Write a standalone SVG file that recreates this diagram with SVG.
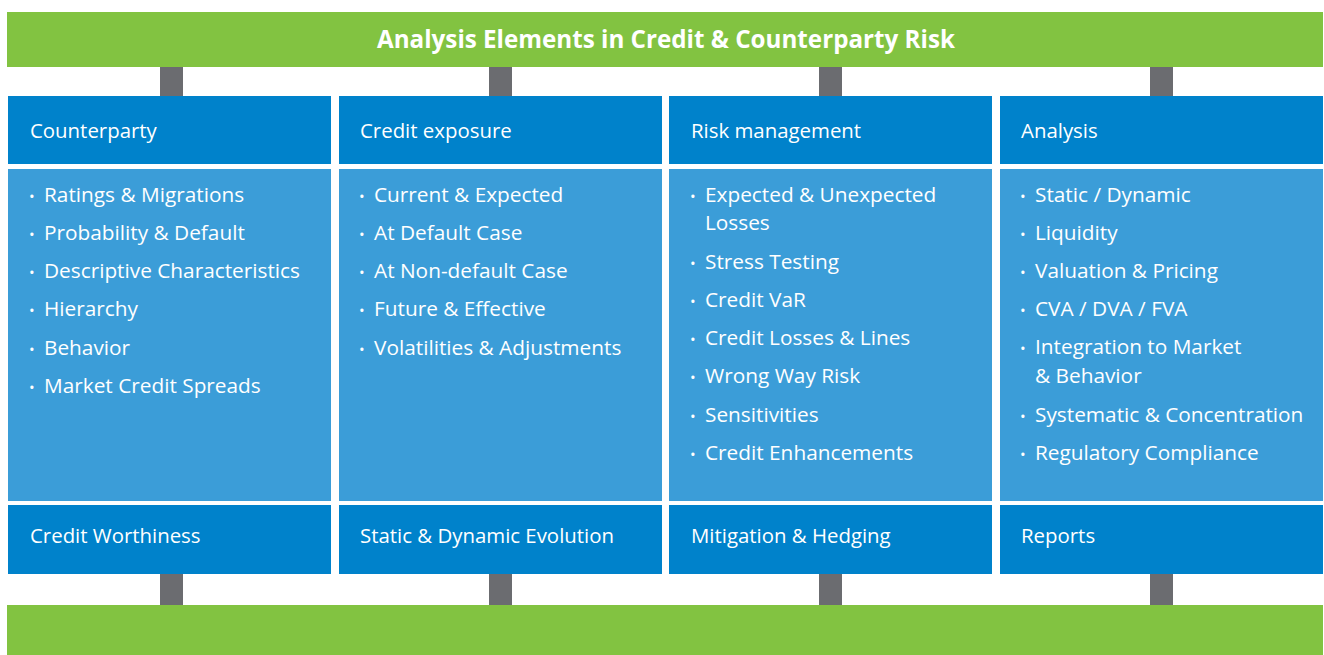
<svg xmlns="http://www.w3.org/2000/svg" width="1324" height="655" viewBox="0 0 1324 655">
<style>
.green{fill:#82C341}
.conn{fill:#6B6C70}
.head{fill:#0082CB}
.body{fill:#3B9DD8}
text{font-family:"Open Sans","Noto Sans",sans-serif;fill:#FFFFFF}
.title{font-size:24.2px;font-weight:bold}
.h{font-size:20.4px}
.b{font-size:20.8px}
.d{font-size:15px}
</style>
<rect width="1324" height="655" fill="#FFFFFF"/>
<g id="connectors">
<rect class="conn" x="160" y="67" width="23" height="29"/>
<rect class="conn" x="489" y="67" width="23" height="29"/>
<rect class="conn" x="819" y="67" width="23" height="29"/>
<rect class="conn" x="1150" y="67" width="23" height="29"/>
<rect class="conn" x="160" y="574" width="23" height="31"/>
<rect class="conn" x="489" y="574" width="23" height="31"/>
<rect class="conn" x="819" y="574" width="23" height="31"/>
<rect class="conn" x="1150" y="574" width="23" height="31"/>
</g>
<g id="top-bar">
<rect class="green" x="7" y="12" width="1316" height="55"/>
<text class="title" x="666" y="48" text-anchor="middle">Analysis Elements in Credit &amp; Counterparty Risk</text>
</g>
<g id="bottom-bar">
<rect class="green" x="7" y="605" width="1316" height="50"/>
</g>
<g id="col-counterparty">
<rect class="head" x="8" y="96" width="323" height="68"/>
<text class="h" x="30" y="138">Counterparty</text>
<rect class="body" x="8" y="169" width="323" height="332"/>
<text class="b" x="44" y="202"><tspan class="d" x="29">•</tspan><tspan x="44">Ratings &amp; Migrations</tspan></text>
<text class="b" x="44" y="240"><tspan class="d" x="29">•</tspan><tspan x="44">Probability &amp; Default</tspan></text>
<text class="b" x="44" y="278"><tspan class="d" x="29">•</tspan><tspan x="44">Descriptive Characteristics</tspan></text>
<text class="b" x="44" y="316"><tspan class="d" x="29">•</tspan><tspan x="44">Hierarchy</tspan></text>
<text class="b" x="44" y="355"><tspan class="d" x="29">•</tspan><tspan x="44">Behavior</tspan></text>
<text class="b" x="44" y="393"><tspan class="d" x="29">•</tspan><tspan x="44">Market Credit Spreads</tspan></text>
<rect class="head" x="8" y="505" width="323" height="69"/>
<text class="h" x="30" y="543">Credit Worthiness</text>
</g>
<g id="col-exposure">
<rect class="head" x="339" y="96" width="323" height="68"/>
<text class="h" x="360" y="138">Credit exposure</text>
<rect class="body" x="339" y="169" width="323" height="332"/>
<text class="b" x="374" y="202"><tspan class="d" x="359">•</tspan><tspan x="374">Current &amp; Expected</tspan></text>
<text class="b" x="374" y="240"><tspan class="d" x="359">•</tspan><tspan x="374">At Default Case</tspan></text>
<text class="b" x="374" y="278"><tspan class="d" x="359">•</tspan><tspan x="374">At Non-default Case</tspan></text>
<text class="b" x="374" y="316"><tspan class="d" x="359">•</tspan><tspan x="374">Future &amp; Effective</tspan></text>
<text class="b" x="374" y="355"><tspan class="d" x="359">•</tspan><tspan x="374">Volatilities &amp; Adjustments</tspan></text>
<rect class="head" x="339" y="505" width="323" height="69"/>
<text class="h" x="360" y="543">Static &amp; Dynamic Evolution</text>
</g>
<g id="col-risk">
<rect class="head" x="669" y="96" width="323" height="68"/>
<text class="h" x="691" y="138">Risk management</text>
<rect class="body" x="669" y="169" width="323" height="332"/>
<text class="b" x="705" y="202"><tspan class="d" x="690">•</tspan><tspan x="705">Expected &amp; Unexpected</tspan></text>
<text class="b" x="705" y="230">Losses</text>
<text class="b" x="705" y="269"><tspan class="d" x="690">•</tspan><tspan x="705">Stress Testing</tspan></text>
<text class="b" x="705" y="307"><tspan class="d" x="690">•</tspan><tspan x="705">Credit VaR</tspan></text>
<text class="b" x="705" y="345"><tspan class="d" x="690">•</tspan><tspan x="705">Credit Losses &amp; Lines</tspan></text>
<text class="b" x="705" y="383"><tspan class="d" x="690">•</tspan><tspan x="705">Wrong Way Risk</tspan></text>
<text class="b" x="705" y="422"><tspan class="d" x="690">•</tspan><tspan x="705">Sensitivities</tspan></text>
<text class="b" x="705" y="460"><tspan class="d" x="690">•</tspan><tspan x="705">Credit Enhancements</tspan></text>
<rect class="head" x="669" y="505" width="323" height="69"/>
<text class="h" x="691" y="543">Mitigation &amp; Hedging</text>
</g>
<g id="col-analysis">
<rect class="head" x="1000" y="96" width="323" height="68"/>
<text class="h" x="1021" y="138">Analysis</text>
<rect class="body" x="1000" y="169" width="323" height="332"/>
<text class="b" x="1035" y="202"><tspan class="d" x="1020">•</tspan><tspan x="1035">Static / Dynamic</tspan></text>
<text class="b" x="1035" y="240"><tspan class="d" x="1020">•</tspan><tspan x="1035">Liquidity</tspan></text>
<text class="b" x="1035" y="278"><tspan class="d" x="1020">•</tspan><tspan x="1035">Valuation &amp; Pricing</tspan></text>
<text class="b" x="1035" y="316"><tspan class="d" x="1020">•</tspan><tspan x="1035">CVA / DVA / FVA</tspan></text>
<text class="b" x="1035" y="354"><tspan class="d" x="1020">•</tspan><tspan x="1035">Integration to Market</tspan></text>
<text class="b" x="1035" y="383">&amp; Behavior</text>
<text class="b" x="1035" y="422"><tspan class="d" x="1020">•</tspan><tspan x="1035">Systematic &amp; Concentration</tspan></text>
<text class="b" x="1035" y="460"><tspan class="d" x="1020">•</tspan><tspan x="1035">Regulatory Compliance</tspan></text>
<rect class="head" x="1000" y="505" width="323" height="69"/>
<text class="h" x="1021" y="543">Reports</text>
</g>
</svg>
